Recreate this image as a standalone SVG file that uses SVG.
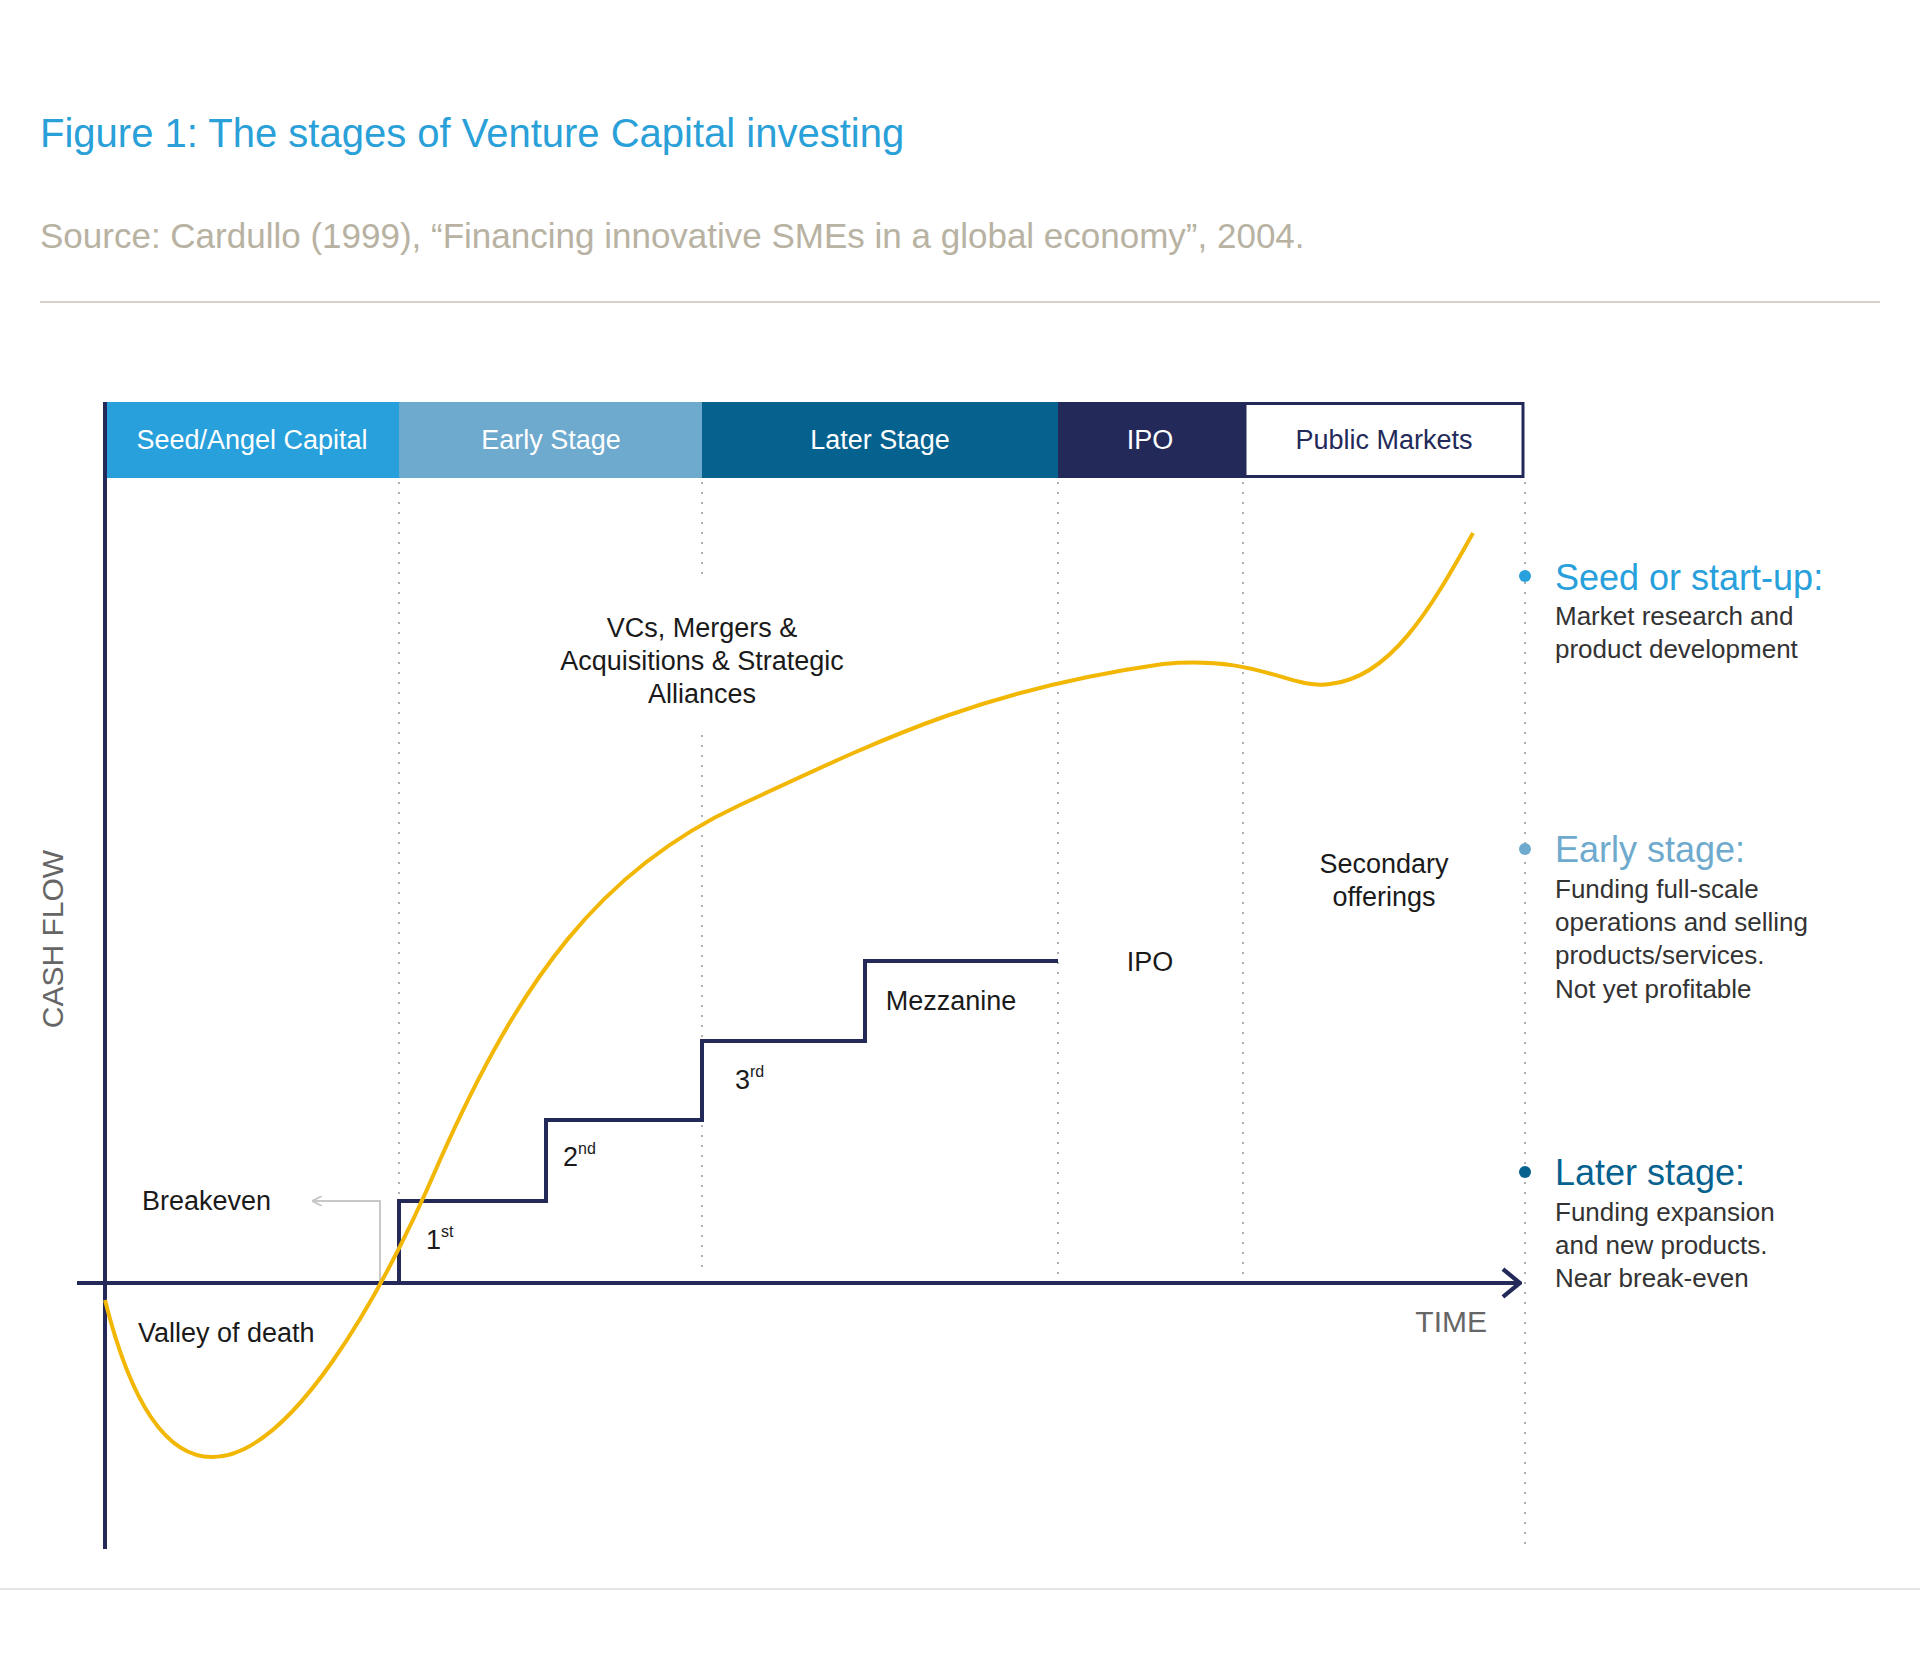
<svg xmlns="http://www.w3.org/2000/svg" width="1920" height="1672" viewBox="0 0 1920 1672">
<style>
text{font-family:"Liberation Sans",Arial,sans-serif}
.bar{font-size:27px;fill:#fff;text-anchor:middle}
.lbl{font-size:27px;fill:#1a1a1a}
.c{text-anchor:middle}
.dot{stroke:#b0b0b0;stroke-width:2;stroke-dasharray:2 8;fill:none}
.hd{font-size:36px}
.bd{font-size:26px;fill:#333}
</style>
<defs>
<marker id="ah" viewBox="0 0 10 10" refX="9" refY="5" markerWidth="10" markerHeight="10" markerUnits="userSpaceOnUse" orient="auto"><path d="M0,0 L10,5 L0,10" fill="none" stroke="#c8c8c8" stroke-width="2"/></marker>
<marker id="ax" viewBox="0 0 20 30" refX="18" refY="15" markerWidth="22" markerHeight="32" markerUnits="userSpaceOnUse" orient="auto"><path d="M2,2 L18,15 L2,28" fill="none" stroke="#232a5a" stroke-width="4"/></marker>
</defs>
<rect width="1920" height="1672" fill="#fff"/>
<text x="40" y="147" font-size="40" fill="#2aa0d8">Figure 1: The stages of Venture Capital investing</text>
<text x="40" y="248" font-size="35" fill="#b8b2a2">Source: Cardullo (1999), “Financing innovative SMEs in a global economy”, 2004.</text>
<line x1="40" y1="302" x2="1880" y2="302" stroke="#d8d0c6" stroke-width="2"/>
<line x1="0" y1="1589" x2="1920" y2="1589" stroke="#e6e6e6" stroke-width="2"/>
<g id="bar">
<rect x="105" y="402" width="294" height="76" fill="#27a0dc"/>
<rect x="399" y="402" width="303" height="76" fill="#6eaacd"/>
<rect x="702" y="402" width="356" height="76" fill="#05628f"/>
<rect x="1058" y="402" width="186" height="76" fill="#232a5a"/>
<rect x="1245" y="403.5" width="278" height="73" fill="#fff" stroke="#232a5a" stroke-width="3"/>
<text class="bar" x="252" y="449">Seed/Angel Capital</text>
<text class="bar" x="551" y="449">Early Stage</text>
<text class="bar" x="880" y="449">Later Stage</text>
<text class="bar" x="1150" y="449">IPO</text>
<text class="bar" x="1384" y="449" style="fill:#232a5a">Public Markets</text>
</g>
<g id="grid">
<line class="dot" x1="399" y1="482" x2="399" y2="1275"/>
<line class="dot" x1="702" y1="482" x2="702" y2="576"/>
<line class="dot" x1="702" y1="735" x2="702" y2="1275"/>
<line class="dot" x1="1058" y1="482" x2="1058" y2="1275"/>
<line class="dot" x1="1243" y1="482" x2="1243" y2="1275"/>
<line class="dot" x1="1525" y1="482" x2="1525" y2="1545"/>
</g>
<g id="connectors">
<line x1="105" y1="402" x2="105" y2="1549" stroke="#232a5a" stroke-width="4"/>
<line x1="77" y1="1283" x2="1520" y2="1283" stroke="#232a5a" stroke-width="4" marker-end="url(#ax)"/>
<polyline points="399,1283 399,1201 546,1201 546,1120 702,1120 702,1041 865,1041 865,961 1058,961" fill="none" stroke="#232a5a" stroke-width="4"/>
<polyline points="380,1283 380,1201 313,1201" fill="none" stroke="#c8c8c8" stroke-width="2" marker-end="url(#ah)"/>
<path d="M105,1300 C130,1400 165,1457 212,1457 C290,1457 380,1300 440,1160 C520,980 600,870 740,805 C880,740 980,690 1163,664 C1260,655 1290,690 1330,684 C1390,678 1430,610 1473,533" fill="none" stroke="#f2b705" stroke-width="4"/>
</g>
<g id="labels">
<text class="lbl c" x="702" y="637">VCs, Mergers &amp;</text>
<text class="lbl c" x="702" y="670">Acquisitions &amp; Strategic</text>
<text class="lbl c" x="702" y="703">Alliances</text>
<text class="lbl c" x="1384" y="873">Secondary</text>
<text class="lbl c" x="1384" y="906">offerings</text>
<text class="lbl c" x="1150" y="971">IPO</text>
<text class="lbl c" x="951" y="1010">Mezzanine</text>
<text class="lbl" x="735" y="1089">3<tspan font-size="16" dy="-12">rd</tspan></text>
<text class="lbl" x="563" y="1166">2<tspan font-size="16" dy="-12">nd</tspan></text>
<text class="lbl" x="426" y="1249">1<tspan font-size="16" dy="-12">st</tspan></text>
<text class="lbl" x="142" y="1210">Breakeven</text>
<text class="lbl" x="138" y="1342">Valley of death</text>
<text x="1487" y="1332" font-size="30" fill="#666" text-anchor="end">TIME</text>
<text x="0" y="0" font-size="30" fill="#666" text-anchor="middle" transform="translate(63,939) rotate(-90)">CASH FLOW</text>
</g>
<g id="legend">
<circle cx="1525" cy="576" r="6" fill="#27a0dc"/>
<text class="hd" x="1555" y="590" fill="#27a0dc">Seed or start-up:</text>
<text class="bd" x="1555" y="625">Market research and</text>
<text class="bd" x="1555" y="658">product development</text>
<circle cx="1525" cy="849" r="6" fill="#6eaacd"/>
<text class="hd" x="1555" y="862" fill="#6eaacd">Early stage:</text>
<text class="bd" x="1555" y="898">Funding full-scale</text>
<text class="bd" x="1555" y="931">operations and selling</text>
<text class="bd" x="1555" y="964">products/services.</text>
<text class="bd" x="1555" y="998">Not yet profitable</text>
<circle cx="1525" cy="1172" r="6" fill="#05628f"/>
<text class="hd" x="1555" y="1185" fill="#05628f">Later stage:</text>
<text class="bd" x="1555" y="1221">Funding expansion</text>
<text class="bd" x="1555" y="1254">and new products.</text>
<text class="bd" x="1555" y="1287">Near break-even</text>
</g>
</svg>
